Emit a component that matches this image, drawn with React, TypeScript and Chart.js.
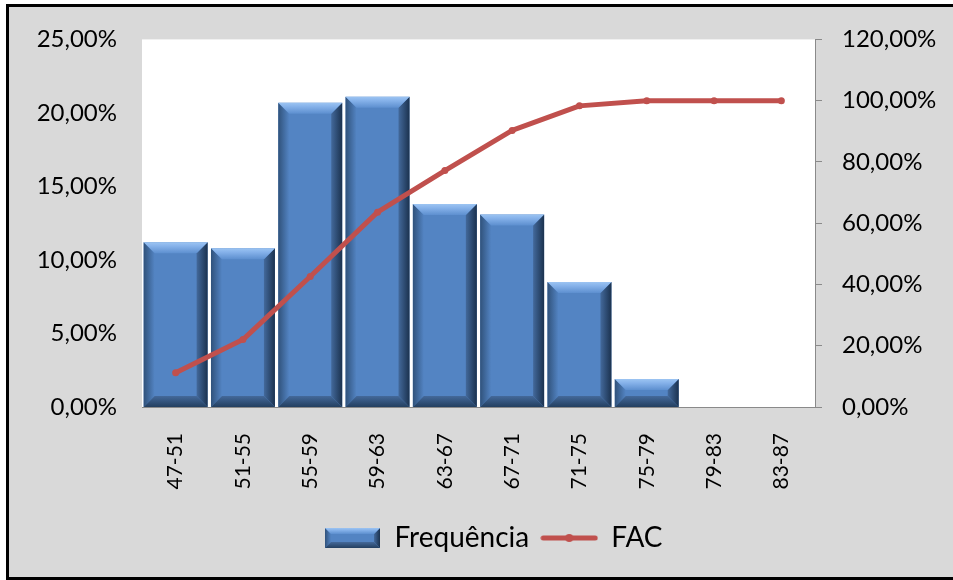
import React, { useEffect, useRef } from 'react';
import { Chart, registerables } from 'chart.js';

Chart.register(...registerables);

const categories = ['47-51', '51-55', '55-59', '59-63', '63-67', '67-71', '71-75', '75-79', '79-83', '83-87'];
const frequencia = [11.2, 10.8, 20.7, 21.1, 13.8, 13.1, 8.5, 1.9, 0, 0];
const fac = [11.2, 22.0, 42.6, 63.6, 77.2, 90.3, 98.3, 100, 100, 100];
const leftMax = 25;
const leftStep = 5;
const rightMax = 120;
const rightStep = 20;
const seriesNames = ['Frequência', 'FAC'];

const FACE = '#5384c3';
const RED = '#c0504d';

function poly(ctx: CanvasRenderingContext2D, pts: number[][], fill: any) {
  ctx.beginPath();
  ctx.moveTo(pts[0][0], pts[0][1]);
  for (let i = 1; i < pts.length; i++) ctx.lineTo(pts[i][0], pts[i][1]);
  ctx.closePath();
  ctx.fillStyle = fill;
  ctx.fill();
}

function drawBevel(ctx: CanvasRenderingContext2D, l: number, t: number, r: number, b: number, maxS: number) {
  const h = b - t;
  const w = r - l;
  const s = Math.min(maxS, h / 2, w / 2);
  ctx.save();
  let g = ctx.createLinearGradient(l, 0, l + s, 0);
  g.addColorStop(0, '#30527b');
  g.addColorStop(1, FACE);
  poly(ctx, [[l, t], [l + s, t + s], [l + s, b - s], [l, b]], g);
  g = ctx.createLinearGradient(r - s, 0, r, 0);
  g.addColorStop(0, '#43699b');
  g.addColorStop(1, '#1b324f');
  poly(ctx, [[r, t], [r, b], [r - s, b - s], [r - s, t + s]], g);
  g = ctx.createLinearGradient(0, b - s, 0, b);
  g.addColorStop(0, '#44699a');
  g.addColorStop(1, '#233f60');
  poly(ctx, [[l, b], [l + s, b - s], [r - s, b - s], [r, b]], g);
  g = ctx.createLinearGradient(0, t, 0, t + s);
  g.addColorStop(0, '#9cc4f2');
  g.addColorStop(0.35, '#86b2ea');
  g.addColorStop(1, '#5d8fcf');
  poly(ctx, [[l, t], [r, t], [r - s, t + s], [l + s, t + s]], g);
  ctx.restore();
}

const plotBgPlugin = {
  id: 'plotBg',
  beforeDraw(chart: any) {
    const { ctx, chartArea } = chart;
    ctx.save();
    ctx.fillStyle = '#ffffff';
    ctx.fillRect(chartArea.left, chartArea.top, chartArea.right - chartArea.left, chartArea.bottom - chartArea.top);
    ctx.restore();
  },
};

const bevelPlugin = {
  id: 'bevelBars',
  afterDatasetDraw(chart: any, args: any) {
    const ds = chart.data.datasets[args.index];
    if (ds.type !== 'bar') return;
    const ctx = chart.ctx;
    args.meta.data.forEach((el: any) => {
      const p = el.getProps(['x', 'y', 'base', 'width'], true);
      const l = p.x - p.width / 2;
      const r = p.x + p.width / 2;
      const t = Math.min(p.y, p.base);
      const b = Math.max(p.y, p.base);
      if (b - t < 1) return;
      drawBevel(ctx, l, t, r, b, 11);
    });
  },
};

const fmt = (v: any) => Number(v).toFixed(2).replace('.', ',') + '%';

export default function App() {
  const ref = useRef<HTMLCanvasElement>(null);

  useEffect(() => {
    const canvas = ref.current!;

    const barIcon = document.createElement('canvas');
    barIcon.width = 55;
    barIcon.height = 20;
    const bctx = barIcon.getContext('2d')!;
    bctx.fillStyle = FACE;
    bctx.fillRect(0, 0, 55, 20);
    drawBevel(bctx, 0, 0, 55, 20, 6);

    const lineIcon = document.createElement('canvas');
    lineIcon.width = 58;
    lineIcon.height = 12;
    const lctx = lineIcon.getContext('2d')!;
    lctx.strokeStyle = RED;
    lctx.lineWidth = 5;
    lctx.lineCap = 'round';
    lctx.beginPath();
    lctx.moveTo(3, 6);
    lctx.lineTo(55, 6);
    lctx.stroke();
    lctx.fillStyle = RED;
    lctx.beginPath();
    lctx.arc(29, 6, 4, 0, Math.PI * 2);
    lctx.fill();

    const chart = new Chart(canvas, {
      type: 'bar',
      data: {
        labels: categories,
        datasets: [
          {
            type: 'bar',
            label: seriesNames[0],
            data: frequencia,
            yAxisID: 'y',
            backgroundColor: FACE,
            borderWidth: 0,
            barPercentage: 0.95,
            categoryPercentage: 1,
            order: 2,
          } as any,
          {
            type: 'line',
            label: seriesNames[1],
            data: fac,
            yAxisID: 'y1',
            borderColor: RED,
            backgroundColor: RED,
            borderWidth: 5,
            pointRadius: 3.5,
            pointBorderWidth: 0,
            pointBackgroundColor: RED,
            tension: 0,
            borderCapStyle: 'round',
            borderJoinStyle: 'round',
            order: 1,
          } as any,
        ],
      },
      options: {
        responsive: false,
        animation: false,
        devicePixelRatio: 1,
        layout: { padding: { left: 34, top: 36, right: 0, bottom: 18 } },
        font: { family: 'Lato' } as any,
        scales: {
          x: {
            type: 'category',
            offset: true,
            grid: { display: false, drawTicks: false },
            border: { display: true, color: '#8a8a8a', width: 1 },
            ticks: {
              minRotation: 90,
              maxRotation: 90,
              padding: 26,
              color: '#000',
              font: { family: 'Lato', size: 21 },
            },
            afterFit: (s: any) => {
              s.height = 105;
            },
          },
          y: {
            position: 'left',
            min: 0,
            max: leftMax,
            grid: { display: false, drawTicks: false },
            border: { display: false },
            ticks: {
              stepSize: leftStep,
              padding: 25,
              color: '#000',
              font: { family: 'Lato', size: 24 },
              callback: fmt,
            },
            afterFit: (s: any) => {
              s.width = 108;
            },
          },
          y1: {
            position: 'right',
            min: 0,
            max: rightMax,
            grid: { display: true, drawOnChartArea: false, drawTicks: true, tickLength: 7, color: '#8a8a8a' },
            border: { display: true, color: '#8a8a8a', width: 1 },
            ticks: {
              stepSize: rightStep,
              padding: 20,
              color: '#000',
              font: { family: 'Lato', size: 24 },
              callback: fmt,
            },
            afterFit: (s: any) => {
              s.width = 138;
            },
          },
        },
        plugins: {
          tooltip: { enabled: false },
          legend: {
            display: true,
            position: 'bottom',
            labels: {
              usePointStyle: true,
              pointStyleWidth: 56,
              padding: 12,
              color: '#000',
              font: { family: 'Lato', size: 28 },
              generateLabels: () => [
                {
                  text: seriesNames[0],
                  pointStyle: barIcon as any,
                  fillStyle: FACE,
                  strokeStyle: FACE,
                  lineWidth: 0,
                  hidden: false,
                  datasetIndex: 0,
                  fontColor: '#000',
                } as any,
                {
                  text: seriesNames[1],
                  pointStyle: lineIcon as any,
                  fillStyle: RED,
                  strokeStyle: RED,
                  lineWidth: 0,
                  hidden: false,
                  datasetIndex: 1,
                  fontColor: '#000',
                } as any,
              ],
            },
          },
        },
      } as any,
      plugins: [plotBgPlugin, bevelPlugin],
    });

    return () => chart.destroy();
  }, []);

  return (
    <div style={{ position: 'absolute', left: 0, top: 0, width: 953, height: 580, overflow: 'hidden', background: '#ffffff' }}>
      <div
        style={{
          position: 'absolute',
          left: 6,
          top: 4,
          width: 960,
          height: 570,
          border: '3px solid #000',
          background: '#d9d9d9',
          boxSizing: 'content-box',
        }}
      />
      <canvas ref={ref} width={953} height={580} style={{ position: 'absolute', left: 0, top: 0, width: 953, height: 580 }} />
    </div>
  );
}
